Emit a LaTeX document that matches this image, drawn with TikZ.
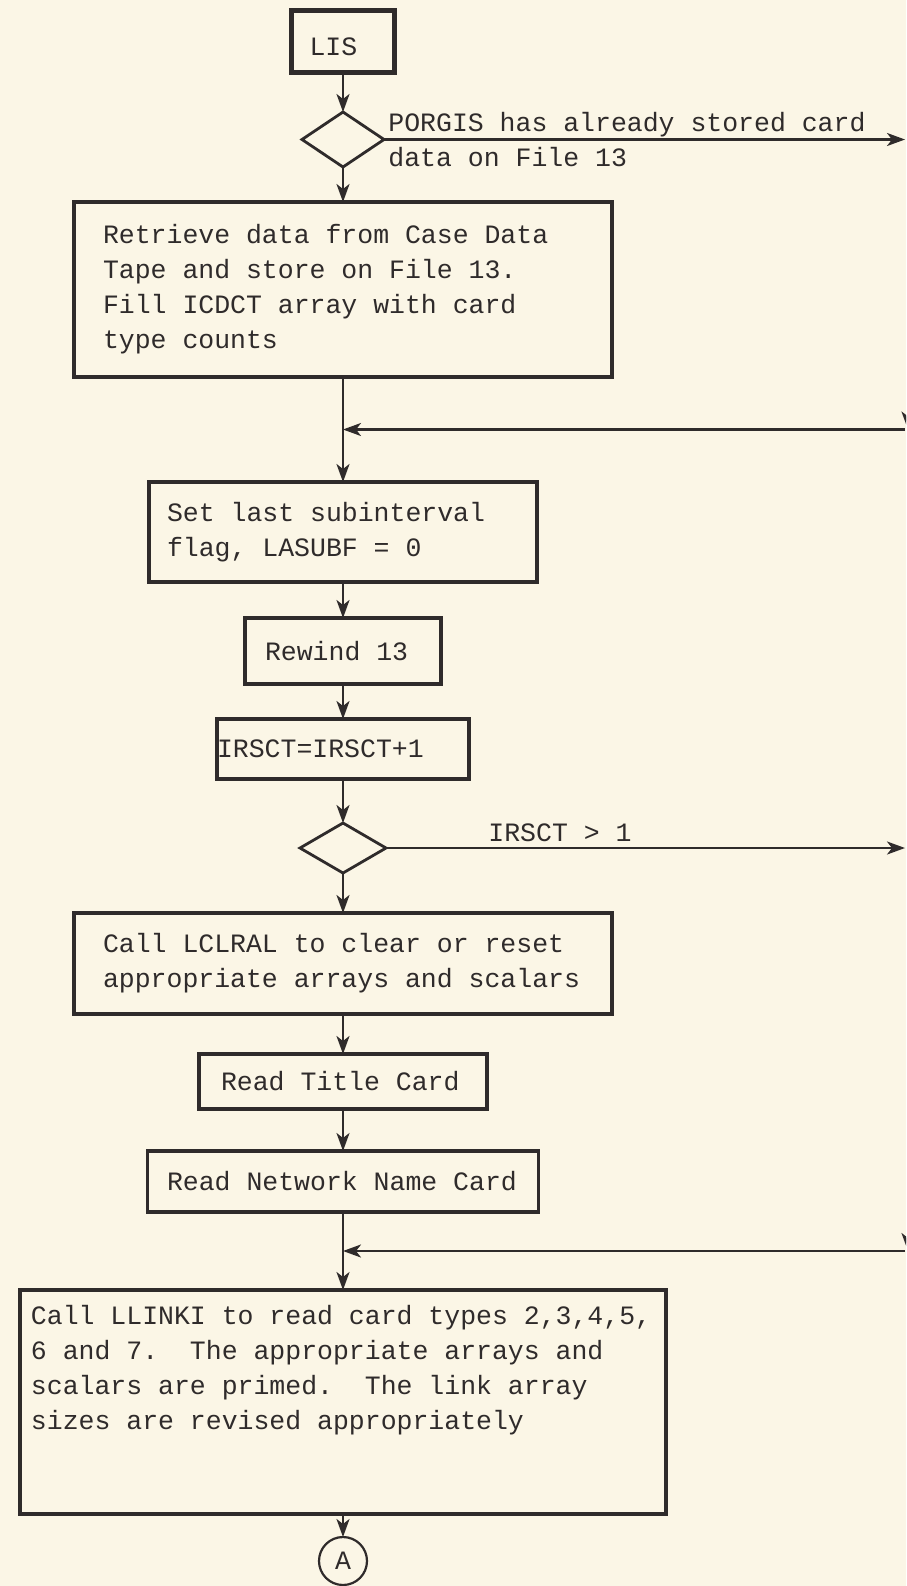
\documentclass[tikz,border=0pt]{standalone}
\usepackage{fontspec}
\setmonofont{Liberation Mono}
\usetikzlibrary{positioning, calc, arrows.meta, shapes.geometric}
\usepackage{xcolor}
\definecolor{PaperCream}{HTML}{FBF6E6}
\definecolor{TypeInk}{HTML}{2F2B2B}
\newcommand{\typefont}{\ttfamily\fontsize{13.25pt}{17.5pt}\selectfont}
\frenchspacing

\begin{document}
\begin{tikzpicture}[
  box/.style={rectangle, draw=TypeInk, line width=1.9pt, outer sep=0pt, text=TypeInk, align=left,
              font=\typefont, inner ysep=0pt, execute at begin node={\spaceskip=0pt\xspaceskip=0pt}},
  startbox/.style={box, line width=2.5pt},
  decision/.style={diamond, draw=TypeInk, line width=1.4pt, inner sep=0pt, outer sep=0pt},
  connector/.style={circle, draw=TypeInk, line width=1.1pt, inner sep=0pt, outer sep=0pt, minimum size=24pt,
              text=TypeInk, font=\typefont},
  note/.style={text=TypeInk, font=\typefont, align=left, inner sep=0pt},
  arrow/.style={-{Stealth[length=9pt, width=6.5pt, inset=2.5pt]}, line width=1.2pt, TypeInk},
  joinline/.style={line width=1.2pt, TypeInk}
]
  \fill[PaperCream] (0,0) rectangle (453pt,-793pt);
  \useasboundingbox (0,0) rectangle (453pt,-793pt);

  \node[startbox, text width=33.5pt, inner xsep=9pt, minimum height=31pt, text height=14pt, text depth=0pt] (lis) at (171.5pt,-20.5pt) {LIS};
  \node[decision, minimum width=41pt, minimum height=27.5pt, below=20pt of lis] (stored) {};
  \node[box, text width=240pt, inner xsep=14.5pt, minimum height=87.5pt, below=17.5pt of stored] (retrieve) {Retrieve data from Case Data\\Tape and store on File 13.\\Fill ICDCT array with card\\type counts};
  \node[box, text width=176pt, inner xsep=9pt, minimum height=50pt, below=52.5pt of retrieve] (lastsub) {Set last subinterval\\flag, LASUBF = 0};
  \node[box, text width=78pt, inner xsep=10pt, minimum height=33pt, below=18pt of lastsub] (rewind) {Rewind 13};
  \node[box, text width=126pt, inner xsep=0pt, minimum height=30pt, below=17.5pt of rewind] (count) {IRSCT=IRSCT+1};
  \node[decision, minimum width=43pt, minimum height=25pt, below=22pt of count] (more) {};
  \node[box, text width=240pt, inner xsep=14.5pt, minimum height=50.5pt, below=20pt of more] (clear) {Call LCLRAL to clear or reset\\appropriate arrays and scalars};
  \node[box, text width=122pt, inner xsep=11pt, minimum height=27.5pt, below=20pt of clear] (title) {Read Title Card};
  \node[box, text width=176pt, inner xsep=9.75pt, minimum height=30.5pt, below=21pt of title] (network) {Read Network Name Card};
  \node[box, text width=312pt, inner xsep=5.5pt, minimum height=112pt, below=39pt of network] (links) {Call LLINKI to read card types 2,3,4,5,\\6 and 7.\ \ The appropriate arrays and\\scalars are primed.\ \ The link array\\sizes are revised appropriately\\\mbox{}\\\mbox{}};
  \node[connector, below=11.5pt of links] (conA) {A};

  \node[note, right=2pt of stored.east] (storedlbl) {PORGIS has already stored card\\data on File 13};
  \node[note, above right=3pt and 51pt of more.east] (morelbl) {IRSCT > 1};

  \coordinate (edge) at (452.5pt,0);
  \coordinate (offedge) at (454pt,0);
  \coordinate (mergeA) at ($(retrieve.south)!0.5!(lastsub.north)$);
  \coordinate (mergeB) at ($(network.south)!0.5!(links.north)$);

  \draw[arrow] (lis) -- (stored);
  \draw[arrow] (stored) -- (retrieve);
  \draw[joinline] (retrieve) -- (mergeA);
  \draw[arrow] (mergeA) -- (lastsub);
  \draw[arrow] (lastsub) -- (rewind);
  \draw[arrow] (rewind) -- (count);
  \draw[arrow] (count) -- (more);
  \draw[arrow] (more) -- (clear);
  \draw[arrow] (clear) -- (title);
  \draw[arrow] (title) -- (network);
  \draw[joinline] (network) -- (mergeB);
  \draw[arrow] (mergeB) -- (links);
  \draw[arrow] (links) -- (conA);

  \draw[arrow] (stored.east) -- (stored.east -| edge);
  \draw[arrow] (more.east) -- (more.east -| edge);
  \begin{scope}
    \clip (0,0) rectangle (453pt,-793pt);
    \draw[arrow] (stored.east -| offedge) -- (mergeA -| offedge);
    \draw[arrow] (more.east -| offedge) -- (mergeB -| offedge);
  \end{scope}
  \draw[arrow] (mergeA -| edge) -- (mergeA);
  \draw[arrow] (mergeB -| edge) -- (mergeB);
\end{tikzpicture}
\end{document}
